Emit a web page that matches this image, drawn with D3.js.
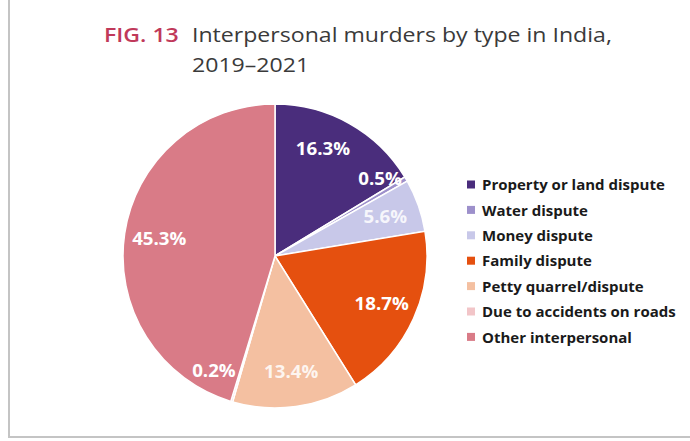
<!DOCTYPE html>
<html>
<head>
<meta charset="utf-8">
<script src="https://cdn.jsdelivr.net/npm/d3@7"></script>
<style>
  body { margin: 0; background: #fff; }
  text { font-family: "Open Sans", sans-serif; }
</style>
</head>
<body>
<script>
// data
const categories = ["Property or land dispute", "Water dispute", "Money dispute",
  "Family dispute", "Petty quarrel/dispute", "Due to accidents on roads", "Other interpersonal"];
const shares = [16.3, 0.5, 5.6, 18.7, 13.4, 0.2, 45.3];
const colors = ["#4a2d7c", "#9d90cb", "#c8c8e9", "#e5500f", "#f4c0a1", "#f2c5c8", "#d97b87"];

const width = 690, height = 441;
const cx = 275, cy = 256, radius = 152;
const stretch = 1.155; // the source figure is a little wide

const svg = d3.select("body").append("svg")
    .attr("width", width)
    .attr("height", height);

// frame: only the left and bottom edges show
svg.append("line")
  .attr("x1", 9).attr("x2", 9).attr("y1", 0).attr("y2", 437)
  .attr("stroke", "#c4c4c4").attr("stroke-width", 2);
svg.append("line")
  .attr("x1", 8).attr("x2", width).attr("y1", 437).attr("y2", 437)
  .attr("stroke", "#c4c4c4").attr("stroke-width", 2);

// title
let tg = svg.append("g").attr("transform", `translate(104,0) scale(${stretch},1)`);
let title = tg.append("text")
  .attr("x", 0).attr("y", 42)
  .attr("font-size", 20);
title.append("tspan").attr("fill", "#c0395a").attr("font-weight", 600).text("FIG. 13");
title.append("tspan").attr("x", 88 / stretch).attr("fill", "#3a3a3a").text("Interpersonal murders by type in India,");
tg.append("text")
  .attr("x", 88 / stretch).attr("y", 72)
  .attr("font-size", 20).attr("fill", "#3a3a3a")
  .text("2019–2021");

let pie = d3.pie().sort(null).value(d => d)(shares);
let arc = d3.arc().innerRadius(0).outerRadius(radius);

let g = svg.append("g").attr("transform", `translate(${cx},${cy})`);

g.selectAll("path")
  .data(pie)
  .enter()
  .append("path")
  .attr("d", arc)
  .attr("fill", (d, i) => colors[i])
  .attr("stroke", "#fff")
  .attr("stroke-width", 1.5);

// labels sit a bit further out for tiny slices, and are nudged sideways
function labelPos(d) {
  let small = d.value < 1;
  let r = small ? 130 : 117;
  let a = (d.startAngle + d.endAngle) / 2;
  if (small) a += (d.index < 3 ? -0.1 : 0.2);
  if (d.index === 0) a -= 0.09;
  return [r * Math.sin(a), -r * Math.cos(a)];
}

g.selectAll("text.lbl")
  .data(pie)
  .enter()
  .append("text")
  .attr("class", "lbl")
  .attr("transform", d => `translate(${labelPos(d)}) scale(1.1,1)`)
  .attr("dy", "0.35em")
  .attr("text-anchor", "middle")
  .attr("font-size", 17)
  .attr("font-weight", 700)
  .attr("fill", "#fff")
  .attr("fill-opacity", (d, i) => i === 2 || i === 4 ? 0.85 : 1)
  .text(d => d.value.toFixed(1) + "%");

// legend
let legend = svg.append("g").attr("transform", "translate(467,185)");
let rows = legend.selectAll("g")
  .data(categories)
  .enter()
  .append("g")
  .attr("transform", (d, i) => `translate(0,${i * 25.4})`);
rows.append("rect")
  .attr("x", 0).attr("y", -4.5)
  .attr("width", 8).attr("height", 8)
  .attr("fill", (d, i) => colors[i]);
rows.append("text")
  .attr("x", 15).attr("dy", "0.35em")
  .attr("font-size", 15)
  .attr("font-weight", 700)
  .attr("fill", "#1a1a1a")
  .text(d => d);
</script>
</body>
</html>
